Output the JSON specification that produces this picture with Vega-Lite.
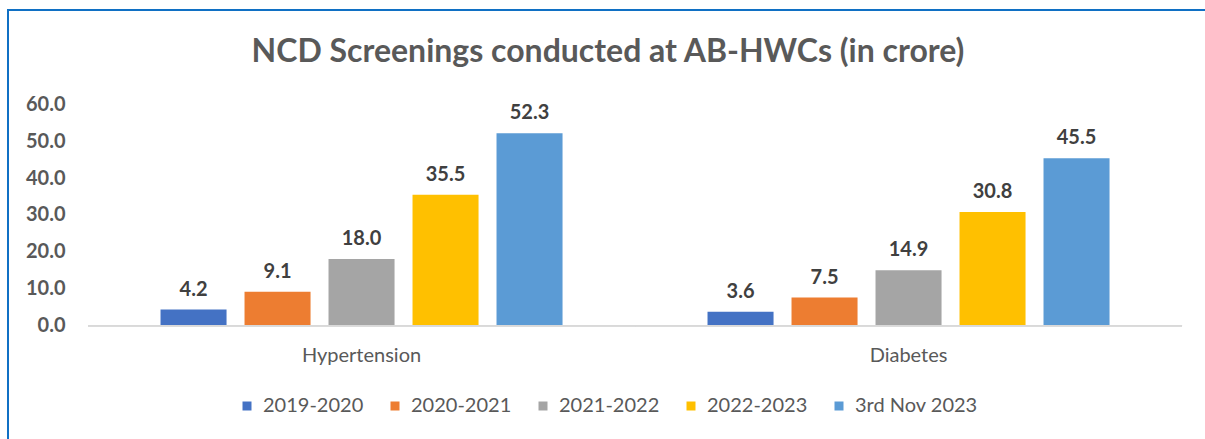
{
  "$schema": "https://vega.github.io/schema/vega-lite/v6.json",
  "width": 1200,
  "height": 432,
  "autosize": {"type": "none"},
  "padding": {"left": 8, "top": 10, "right": 0, "bottom": 0},
  "background": "white",
  "title": {
    "text": "NCD Screenings conducted at AB-HWCs (in crore)",
    "orient": "top",
    "anchor": "middle",
    "frame": "group",
    "offset": -84,
    "baseline": "alphabetic",
    "font": "Lato",
    "fontSize": 32,
    "fontWeight": "bold",
    "color": "#595959"
  },
  "config": {
    "view": {"stroke": "#1070C4", "strokeWidth": 2},
    "font": "Lato"
  },
  "data": {
    "values": [
      {"category": "Hypertension", "year": "2019-2020", "value": 4.2},
      {"category": "Hypertension", "year": "2020-2021", "value": 9.1},
      {"category": "Hypertension", "year": "2021-2022", "value": 18.0},
      {"category": "Hypertension", "year": "2022-2023", "value": 35.5},
      {"category": "Hypertension", "year": "3rd Nov 2023", "value": 52.3},
      {"category": "Diabetes", "year": "2019-2020", "value": 3.6},
      {"category": "Diabetes", "year": "2020-2021", "value": 7.5},
      {"category": "Diabetes", "year": "2021-2022", "value": 14.9},
      {"category": "Diabetes", "year": "2022-2023", "value": 30.8},
      {"category": "Diabetes", "year": "3rd Nov 2023", "value": 45.5}
    ]
  },
  "encoding": {
    "x": {
      "field": "category",
      "type": "nominal",
      "sort": ["Hypertension", "Diabetes"],
      "scale": {"type": "band", "paddingInner": 0, "paddingOuter": 0.0969, "align": 0.755},
      "axis": {
        "title": null,
        "domain": false,
        "ticks": false,
        "tickSize": 0,
        "labelPadding": 0,
        "offset": -97,
        "labelAngle": 0,
        "labelBaseline": "top",
        "labelFont": "Lato",
        "labelFontSize": 20,
        "labelColor": "#595959"
      }
    }
  },
  "layer": [
    {
      "mark": {"type": "bar", "color": "#D9D9D9"},
      "encoding": {
        "y": {"datum": 0, "type": "quantitative", "scale": {"domain": [-31.9, 85.9], "nice": false, "zero": false}},
        "y2": {"datum": -0.4}
      }
    },
    {
      "mark": {"type": "bar"},
      "encoding": {
        "xOffset": {
          "field": "year",
          "type": "nominal",
          "sort": ["2019-2020", "2020-2021", "2021-2022", "2022-2023", "3rd Nov 2023"],
          "scale": {"paddingInner": 0.214, "paddingOuter": 0.863}
        },
        "y": {
          "field": "value",
          "type": "quantitative",
          "scale": {"domain": [-31.9, 85.9], "nice": false, "zero": false},
          "axis": {
            "title": null,
            "values": [0, 10, 20, 30, 40, 50, 60],
            "format": ".1f",
            "grid": false,
            "domain": false,
            "ticks": false,
            "tickSize": 0,
            "labelPadding": 0,
            "offset": -57,
            "labelFont": "Lato",
            "labelFontSize": 20,
            "labelFontWeight": "bold",
            "labelColor": "#595959"
          }
        },
        "y2": {"datum": 0},
        "color": {
          "field": "year",
          "type": "nominal",
          "scale": {
            "domain": ["2019-2020", "2020-2021", "2021-2022", "2022-2023", "3rd Nov 2023"],
            "range": ["#4472C4", "#ED7D31", "#A5A5A5", "#FFC000", "#5B9BD5"]
          },
          "legend": {
            "title": null,
            "orient": "none",
            "direction": "horizontal",
            "columns": 5,
            "legendX": 229,
            "legendY": 386,
            "symbolType": "square",
            "symbolSize": 81,
            "symbolStrokeWidth": 0,
            "labelFont": "Lato",
            "labelFontSize": 20,
            "labelColor": "#595959",
            "labelOffset": 6,
            "columnPadding": 21
          }
        }
      }
    },
    {
      "mark": {"type": "text", "dy": -14, "baseline": "alphabetic", "fontSize": 20, "fontWeight": "bold", "color": "#404040", "font": "Lato"},
      "encoding": {
        "xOffset": {
          "field": "year",
          "type": "nominal",
          "sort": ["2019-2020", "2020-2021", "2021-2022", "2022-2023", "3rd Nov 2023"],
          "scale": {"paddingInner": 0.214, "paddingOuter": 0.863}
        },
        "y": {"field": "value", "type": "quantitative", "scale": {"domain": [-31.9, 85.9], "nice": false, "zero": false}},
        "text": {"field": "value", "type": "quantitative", "format": ".1f"}
      }
    }
  ]
}
